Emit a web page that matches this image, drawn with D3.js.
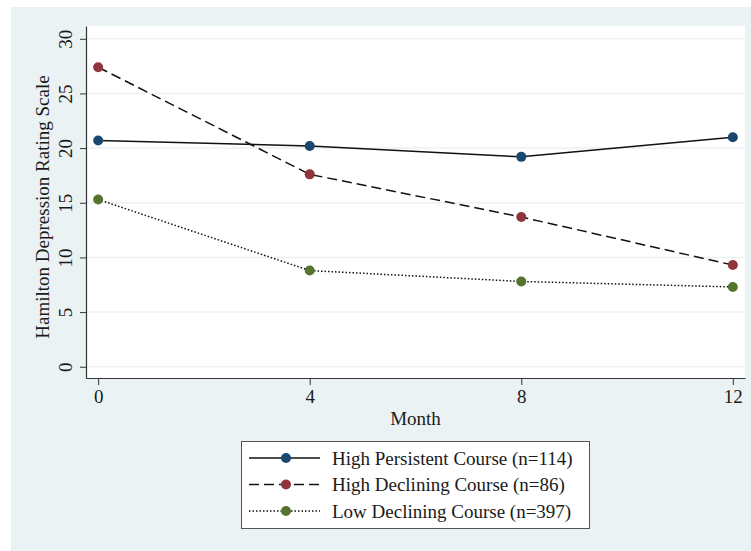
<!DOCTYPE html>
<html lang="en">
<head>
<meta charset="utf-8">
<title>Hamilton Depression Rating Scale by course</title>
<script src="https://cdn.jsdelivr.net/npm/d3@7"></script>
<style>
  body { margin: 0; background: #ffffff; }
  svg text { font-family: "Liberation Serif", "Times New Roman", serif; fill: #1a1a1a; }
</style>
</head>
<body>
<svg id="chart" width="751" height="551"></svg>
<script>
// data
var months = [0, 4, 8, 12];
var yTicks = [0, 5, 10, 15, 20, 25, 30];
var highPersistent = [20.7, 20.2, 19.2, 21.0];
var highDeclining = [27.4, 17.6, 13.7, 9.3];
var lowDeclining = [15.3, 8.8, 7.8, 7.3];
var seriesNames = ["High Persistent Course (n=114)", "High Declining Course (n=86)", "Low Declining Course (n=397)"];

var series = [
  { name: seriesNames[0], values: highPersistent, color: "#1a476f", dash: null },
  { name: seriesNames[1], values: highDeclining, color: "#90353b", dash: "10,5" },
  { name: seriesNames[2], values: lowDeclining, color: "#55752f", dash: "1.5,2" }
];

var fontSize = "19px";
var svg = d3.select("#chart");

// outer stata-like background
svg.append("rect")
  .attr("x", 11).attr("y", 7)
  .attr("width", 740).attr("height", 544)
  .attr("fill", "#eaf2f3");

// plot region (window.top is taken, so use other names)
var pLeft = 86, pRight = 745, pTop = 26, pBottom = 378;

svg.append("rect")
  .attr("x", pLeft).attr("y", pTop)
  .attr("width", pRight - pLeft).attr("height", pBottom - pTop)
  .attr("fill", "#ffffff");

var x = d3.scaleLinear().domain([-0.23, 12.23]).range([pLeft, pRight]);
var y = d3.scaleLinear().domain([-1.03, 31.17]).range([pBottom, pTop]);

// grid lines
svg.append("g").selectAll("line")
  .data(yTicks)
  .enter()
  .append("line")
  .attr("x1", pLeft).attr("x2", pRight)
  .attr("y1", function(d) { return y(d); })
  .attr("y2", function(d) { return y(d); })
  .attr("stroke", "#eaf2f3")
  .attr("stroke-width", 1.5);

// axes
var xAxis = d3.axisBottom(x).tickValues(months).tickSize(7).tickPadding(5).tickSizeOuter(0);
var yAxis = d3.axisLeft(y).tickValues(yTicks).tickSize(6).tickPadding(6).tickSizeOuter(0);

var gx = svg.append("g").attr("transform", "translate(0," + pBottom + ")").call(xAxis);
var gy = svg.append("g").attr("transform", "translate(" + pLeft + ",0)").call(yAxis);

[gx, gy].forEach(function(g) {
  g.select(".domain").attr("stroke", "#333").attr("stroke-width", 1.2);
  g.selectAll(".tick line").attr("stroke", "#333");
  g.selectAll("text").style("font-size", fontSize).attr("fill", "#1a1a1a")
    .style("font-family", "'Liberation Serif', serif");
});

// y tick labels are rotated like stata does
gy.selectAll(".tick text")
  .attr("x", null).attr("dy", null)
  .attr("text-anchor", "middle")
  .attr("transform", "translate(-14,0) rotate(-90)");

// axis titles
svg.append("text")
  .attr("x", (pLeft + pRight) / 2).attr("y", 425)
  .attr("text-anchor", "middle")
  .style("font-size", fontSize)
  .text("Month");

svg.append("text")
  .attr("transform", "translate(49,207) rotate(-90)")
  .attr("text-anchor", "middle")
  .style("font-size", fontSize)
  .text("Hamilton Depression Rating Scale");

// lines and markers
var line = d3.line()
  .x(function(d, i) { return x(months[i]); })
  .y(function(d) { return y(d); });

series.forEach(function(s) {
  svg.append("path")
    .datum(s.values)
    .attr("d", line)
    .attr("fill", "none")
    .attr("stroke", "#111")
    .attr("stroke-width", 1.5)
    .attr("stroke-dasharray", s.dash);

  svg.append("g").selectAll("circle")
    .data(s.values)
    .enter()
    .append("circle")
    .attr("cx", function(d, i) { return x(months[i]); })
    .attr("cy", function(d) { return y(d); })
    .attr("r", 5)
    .attr("fill", s.color);
});

// legend
var legend = svg.append("g");
legend.append("rect")
  .attr("x", 241.5).attr("y", 441.5)
  .attr("width", 348).attr("height", 87)
  .attr("fill", "#ffffff")
  .attr("stroke", "#555")
  .attr("stroke-width", 1);

var rowY = d3.scalePoint().domain(seriesNames).range([458, 511]);

series.forEach(function(s) {
  var yy = rowY(s.name);
  legend.append("line")
    .attr("x1", 249).attr("x2", 320)
    .attr("y1", yy).attr("y2", yy)
    .attr("stroke", "#111")
    .attr("stroke-width", 1.5)
    .attr("stroke-dasharray", s.dash);
  legend.append("circle")
    .attr("cx", 286).attr("cy", yy).attr("r", 5)
    .attr("fill", s.color);
  legend.append("text")
    .attr("x", 332).attr("y", yy)
    .attr("dy", "0.35em")
    .style("font-size", fontSize)
    .text(s.name);
});
</script>
</body>
</html>
